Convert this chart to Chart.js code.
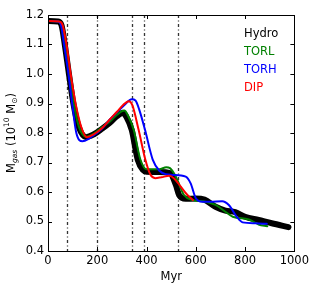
<!DOCTYPE html>
<html>
<head>
<meta charset="utf-8">
<script src="https://cdn.jsdelivr.net/npm/chart.js@4.4.1/dist/chart.umd.min.js"></script>
<style>
  html, body { margin: 0; padding: 0; background: #fff; }
  #wrap { width: 312px; height: 296px; }
</style>
</head>
<body>
<div id="wrap"><canvas id="gas-chart" width="312" height="296"></canvas></div>
<script>
// gas mass vs time
const hydro = [[0,1.18],[40,1.178],[55,1.165],[68,1.10],[85,1.0],[103,0.90],[125,0.82],[155,0.786],[185,0.795],[220,0.815],[250,0.834],[280,0.857],[304,0.869],[318,0.855],[340,0.81],[364,0.71],[385,0.675],[400,0.669],[450,0.668],[495,0.664],[519,0.624],[532,0.59],[559,0.577],[600,0.578],[635,0.574],[680,0.55],[720,0.537],[760,0.532],[800,0.516],[855,0.505],[908,0.494],[976,0.481]];
const torl = [[0,1.18],[40,1.178],[55,1.165],[68,1.10],[86,1.0],[104,0.90],[126,0.82],[155,0.787],[185,0.797],[220,0.82],[250,0.838],[280,0.862],[310,0.876],[323,0.862],[348,0.81],[375,0.71],[400,0.677],[452,0.677],[480,0.684],[495,0.681],[519,0.652],[552,0.59],[586,0.573],[640,0.567],[680,0.556],[720,0.533],[750,0.516],[815,0.507],[855,0.49],[890,0.484]];
const torh = [[0,1.18],[40,1.178],[53,1.165],[65,1.10],[83,1.0],[98,0.90],[115,0.80],[140,0.772],[165,0.78],[190,0.795],[220,0.815],[250,0.845],[280,0.87],[310,0.895],[340,0.914],[355,0.91],[370,0.88],[394,0.81],[425,0.71],[452,0.672],[480,0.66],[505,0.658],[559,0.652],[579,0.629],[600,0.579],[626,0.567],[660,0.567],[707,0.569],[734,0.556],[767,0.515],[790,0.497],[841,0.494],[888,0.492]];
const dip = [[0,1.18],[45,1.178],[60,1.165],[75,1.10],[92,1.0],[112,0.90],[135,0.82],[158,0.786],[185,0.795],[220,0.817],[250,0.845],[280,0.872],[305,0.895],[328,0.908],[342,0.895],[368,0.81],[395,0.71],[415,0.66],[435,0.647],[460,0.65],[492,0.655],[512,0.646],[539,0.618],[566,0.59],[588,0.573]];

const runNames = ['Hydro', 'TORL', 'TORH', 'DIP'];
const runColors = ['#000000', '#008000', '#0000ff', '#ff0000'];
const eventTimes = [77, 200, 341, 391, 528];
const xTicks = [0, 200, 400, 600, 800, 1000];
const yTicks = [0.4, 0.5, 0.6, 0.7, 0.8, 0.9, 1.0, 1.1, 1.2];

const FONT = 'DejaVu Sans';

function toPoints(arr) {
    return arr.map(p => ({x: p[0], y: p[1]}));
}

// dash-dot markers, frame, inward ticks, legend text and axis titles
const decorPlugin = {
    id: 'decor',
    beforeDatasetsDraw(chart) {
        const ctx = chart.ctx;
        const xs = chart.scales.x, area = chart.chartArea;
        ctx.save();
        ctx.strokeStyle = '#333';
        ctx.lineWidth = 1.3;
        ctx.setLineDash([3, 2.5, 1, 2.5]);
        eventTimes.forEach(t => {
            const px = Math.round(xs.getPixelForValue(t)) + 0.5;
            ctx.beginPath();
            ctx.moveTo(px, area.top);
            ctx.lineTo(px, area.bottom);
            ctx.stroke();
        });
        ctx.restore();
    },
    afterDraw(chart) {
        const ctx = chart.ctx;
        const xs = chart.scales.x, ys = chart.scales.y, a = chart.chartArea;
        ctx.save();
        ctx.strokeStyle = '#000';
        ctx.lineWidth = 1;
        ctx.strokeRect(Math.round(a.left) + 0.5, Math.round(a.top) + 0.5,
                       Math.round(a.right - a.left), Math.round(a.bottom - a.top));
        const tl = 4;
        ctx.beginPath();
        xTicks.forEach(v => {
            const px = Math.round(xs.getPixelForValue(v)) + 0.5;
            ctx.moveTo(px, a.bottom); ctx.lineTo(px, a.bottom - tl);
            ctx.moveTo(px, a.top); ctx.lineTo(px, a.top + tl);
        });
        yTicks.forEach(v => {
            const py = Math.round(ys.getPixelForValue(v)) + 0.5;
            ctx.moveTo(a.left, py); ctx.lineTo(a.left + tl, py);
            ctx.moveTo(a.right, py); ctx.lineTo(a.right - tl, py);
        });
        ctx.stroke();

        // legend: coloured text only
        ctx.font = '11.5px "' + FONT + '"';
        ctx.textBaseline = 'middle';
        ctx.textAlign = 'left';
        runNames.forEach((n, i) => {
            ctx.fillStyle = runColors[i];
            ctx.fillText(n, 244, 34 + i * 18);
        });

        // x title
        ctx.fillStyle = '#000';
        ctx.textAlign = 'center';
        ctx.fillText('Myr', (a.left + a.right) / 2, 277);
        ctx.textAlign = 'left';

        // y title: M_gas (10^10 M_sun)
        const parts = [
            {t: 'M', f: '11.5px', dy: 0},
            {t: 'gas', f: 'italic 7.5px', dy: 3},
            {t: ' (10', f: '11.5px', dy: 0},
            {t: '10', f: '7.5px', dy: -5},
            {t: ' M', f: '11.5px', dy: 0},
            {t: '\u2299', f: '7.5px', dy: 3},
            {t: ')', f: '11.5px', dy: 0}
        ];
        let total = 0;
        parts.forEach(p => {
            ctx.font = p.f + ' "' + FONT + '"';
            p.w = ctx.measureText(p.t).width;
            total += p.w;
        });
        ctx.translate(12, (a.top + a.bottom) / 2);
        ctx.rotate(-Math.PI / 2);
        ctx.textBaseline = 'middle';
        let x = -total / 2;
        parts.forEach(p => {
            ctx.font = p.f + ' "' + FONT + '"';
            ctx.fillText(p.t, x, p.dy);
            x += p.w;
        });
        ctx.restore();
    }
};

const series = [hydro, torl, torh, dip];
const widths = [6, 2, 2, 2];

const ctx = document.getElementById('gas-chart').getContext('2d');
const gasChart = new Chart(ctx, {
    type: 'line',
    data: {
        datasets: series.map((s, i) => ({
            label: runNames[i],
            data: toPoints(s),
            borderColor: runColors[i],
            borderWidth: widths[i],
            pointRadius: 0,
            fill: false,
            cubicInterpolationMode: 'monotone',
            borderCapStyle: 'round',
            borderJoinStyle: 'round',
            order: series.length - i
        }))
    },
    options: {
        responsive: false,
        animation: false,
        layout: { padding: { left: 0, right: 16, top: 15, bottom: 0 } },
        plugins: { legend: { display: false }, tooltip: { enabled: false } },
        scales: {
            x: {
                type: 'linear',
                min: 0, max: 1000,
                afterFit(s) { s.height = 45; },
                afterBuildTicks(s) { s.ticks = xTicks.map(v => ({value: v})); },
                grid: { display: false, drawTicks: false },
                border: { display: false },
                ticks: { color: '#000', font: { family: FONT, size: 11.5 }, padding: 3, maxRotation: 0,
                         callback: v => String(v) }
            },
            y: {
                min: 0.4, max: 1.2,
                afterFit(s) { s.width = 48; },
                afterBuildTicks(s) { s.ticks = yTicks.map(v => ({value: v})); },
                grid: { display: false, drawTicks: false },
                border: { display: false },
                ticks: { color: '#000', font: { family: FONT, size: 11.5 }, padding: 4,
                         callback: v => v.toFixed(1) }
            }
        }
    },
    plugins: [decorPlugin]
});
</script>
</body>
</html>
